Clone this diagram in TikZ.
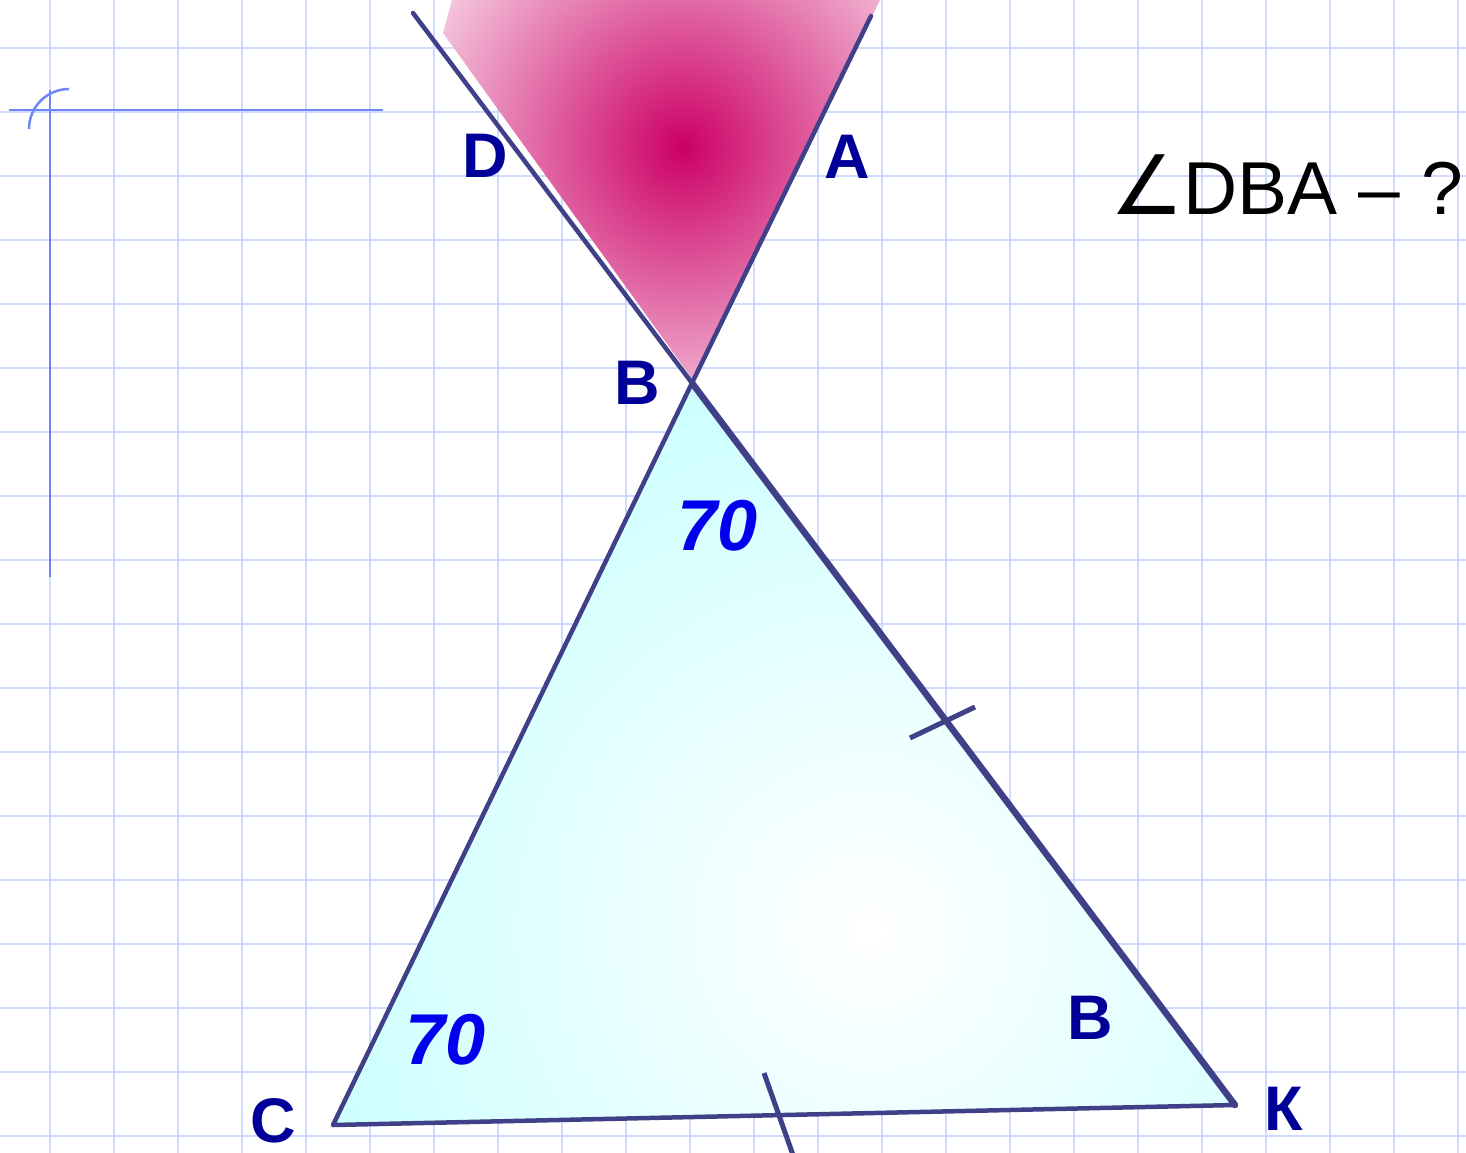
\documentclass[tikz,border=0pt]{standalone}
\usepackage{fontspec}
\setmainfont{Liberation Sans}
\newfontfamily\symbolfont{DejaVu Sans}
\usetikzlibrary{positioning}
\definecolor{grid_blue}{RGB}{206,218,255}
\definecolor{margin_blue}{RGB}{110,135,245}
\definecolor{edge_blue}{RGB}{64,64,136}
\definecolor{label_blue}{RGB}{0,0,153}
\definecolor{num_blue}{RGB}{0,0,238}
\definecolor{pink_dark}{RGB}{204,0,102}
\definecolor{pink_light}{RGB}{248,215,232}
\definecolor{cyan_light}{RGB}{198,255,255}

\begin{document}
\begin{tikzpicture}[x=1pt, y=-1pt,
    gridline/.style={grid_blue, line width=2pt},
    margin/.style={margin_blue, line width=2.5pt},
    edge/.style={edge_blue, line width=4.5pt, line cap=round, line join=round},
    tickmark/.style={edge_blue, line width=5pt},
    vlabel/.style={text=label_blue, inner sep=0pt,
      font=\fontsize{63}{63}\selectfont\bfseries},
    angval/.style={text=num_blue, inner sep=0pt,
      font=\fontsize{72}{72}\selectfont\bfseries\itshape}]
  \useasboundingbox[fill=white] (0,0) rectangle (1466,1153);
  \clip (0,0) rectangle (1466,1153);

  % squared paper
  \foreach \x in {-14,50,...,1470}
    \draw[gridline] (\x,0) -- (\x,1153);
  \foreach \y in {48,112,...,1140}
    \draw[gridline] (0,\y) -- (1466,\y);
  \draw[margin] (9,110) -- (383,110);
  \draw[margin] (50,90) -- (50,577);
  \draw[margin] (29,129) arc[start angle=180, end angle=90, radius=40pt];

  % points
  \coordinate (D) at (413,13);
  \coordinate (A) at (871,16);
  \coordinate (B) at (692,383);
  \coordinate (C) at (333,1125);
  \coordinate (K) at (1235,1105);

  % shaded angle DBA
  \begin{scope}
    \clip (443,33) -- (452,0) -- (880,0) -- (693,380) -- cycle;
    \shade[inner color=pink_dark, outer color=pink_light] (683,147) circle (300pt);
  \end{scope}

  % triangle CBK
  \begin{scope}
    \clip (B) -- (C) -- (K) -- cycle;
    \shade[inner color=white, outer color=cyan_light] (870,930) circle (640pt);
  \end{scope}

  \draw[edge] (D) -- (B);
  \draw[edge] (A) -- (B) -- (C) -- (K);
  \draw[edge, line width=6.5pt] (B) -- (K);

  % equal sides
  \coordinate (t1a) at (910,738);
  \coordinate (t1b) at (975,707);
  \coordinate (t2a) at (764,1073);
  \coordinate (t2b) at (793,1155);
  \draw[tickmark] (t1a) -- (t1b);
  \draw[tickmark] (t2a) -- (t2b);

  % labels
  \node[vlabel] (lD)  at (485,156)  {D};
  \node[vlabel] (lA)  at (847,157)  {A};
  \node[vlabel] (lB)  at (637,383)  {B};
  \node[vlabel] (lB2) at (1090,1018) {B};
  \node[vlabel] (lC)  at (273,1121) {C};
  \node[vlabel] (lK)  at (1284,1109) {К};
  \node[angval] (a1) at (718,526)  {70};
  \node[angval] (a2) at (446,1040) {70};
  \node[anchor=base west, inner sep=0pt, font=\fontsize{75}{75}\selectfont]
    (task) at (1110,214) {{\symbolfont\fontsize{82}{82}\selectfont ∠}DBA – ?};
\end{tikzpicture}
\end{document}
